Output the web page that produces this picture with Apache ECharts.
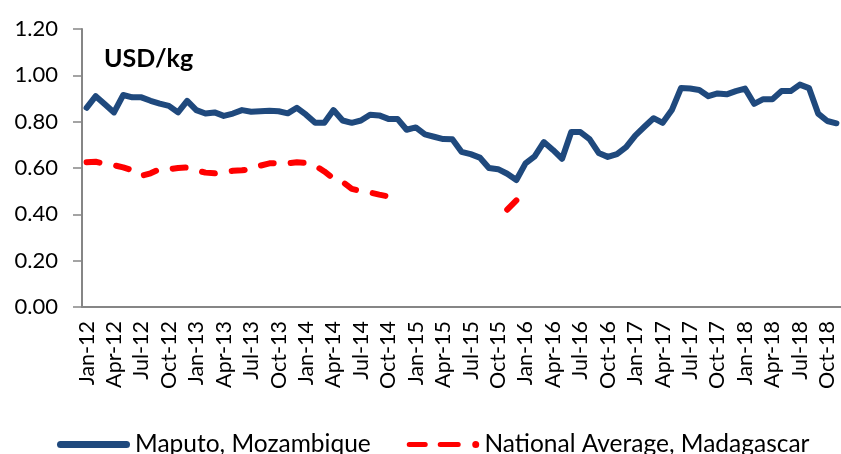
<!DOCTYPE html>
<html lang="en">
<head>
  <meta charset="UTF-8">
  <title>Maize prices</title>
  <script src="https://cdn.jsdelivr.net/npm/echarts@6/dist/echarts.min.js"></script>
</head>
<style>
  * {
    padding: 0px;
    margin: 0px;
  }
  #main {
    width: 841px;
    height: 454px;
  }
</style>
<body>
<div id="main"></div>
<script>
  // monthly categories Jan-12 .. Nov-18
  var monthNames = ['Jan', 'Feb', 'Mar', 'Apr', 'May', 'Jun', 'Jul', 'Aug', 'Sep', 'Oct', 'Nov', 'Dec'];
  var months = [];
  for (var y = 12; y <= 18; y++) {
    for (var m = 0; m < 12; m++) {
      if (y === 18 && m > 10) break;
      months.push(monthNames[m] + '-' + y);
    }
  }

  var maputo = [
    0.86, 0.91, 0.875, 0.84, 0.915, 0.905, 0.905, 0.89, 0.878, 0.868, 0.84, 0.89,
    0.85, 0.835, 0.84, 0.825, 0.835, 0.85, 0.843, 0.845, 0.847, 0.845, 0.836, 0.86,
    0.83, 0.795, 0.795, 0.85, 0.805, 0.795, 0.805, 0.83, 0.827, 0.812, 0.812, 0.765,
    0.775, 0.745, 0.735, 0.725, 0.724, 0.67, 0.66, 0.645, 0.60, 0.595, 0.575, 0.548,
    0.62, 0.65, 0.712, 0.678, 0.64, 0.755, 0.755, 0.725, 0.665, 0.648, 0.66, 0.69,
    0.74, 0.778, 0.815, 0.795, 0.85, 0.945, 0.943, 0.937, 0.91, 0.922, 0.918, 0.932,
    0.943, 0.877, 0.897, 0.897, 0.932, 0.932, 0.96, 0.945, 0.835, 0.803, 0.793
  ];

  var madagascar = [
    0.625, 0.627, 0.618, 0.612, 0.603, 0.59, 0.566, 0.577, 0.595, 0.595, 0.6, 0.602,
    0.59, 0.58, 0.577, 0.582, 0.588, 0.59, 0.595, 0.61, 0.62, 0.622, 0.62, 0.625,
    0.622, 0.61, 0.585, 0.555, 0.54, 0.51, 0.5, 0.494, 0.485, 0.477, 0.495, null,
    null, null, null, null, null, null, null, null, null, null, 0.42, 0.46,
    null, null, null, null, null, null, null, null, null, null, null, null,
    null, null, null, null, null, null, null, null, null, null, null, null,
    null, null, null, null, null, null, null, null, null, null, null
  ];

  var yTicks = [0, 0.2, 0.4, 0.6, 0.8, 1.0, 1.2];

  var axisGray = '#868686';
  var font = 'Lato';
  // legend icons: solid rounded bar, and dash-dash-dot like the original
  var solidIcon = 'path://M3.5,0 H69.5 A3.5,3.5 0 0 1 69.5,7 H3.5 A3.5,3.5 0 0 1 3.5,0 Z';
  var dashIcon = 'path://M3,1 H19 A2.5,2.5 0 0 1 19,6 H3 A2.5,2.5 0 0 1 3,1 Z ' +
    'M34,1 H52 A2.5,2.5 0 0 1 52,6 H34 A2.5,2.5 0 0 1 34,1 Z ' +
    'M69.5,0 A3.5,3.5 0 1 1 69.5,7 A3.5,3.5 0 1 1 69.5,0 Z';
  var chart = echarts.init(document.getElementById('main'));

  chart.setOption({
    backgroundColor: '#fff',
    animation: false,
    title: {
      text: 'USD/kg',
      left: 99,
      top: 41,
      textStyle: {fontFamily: font, fontSize: 25, fontWeight: 'bold', color: '#000'}
    },
    legend: {
      top: 427,
      left: 52,
      itemWidth: 73,
      itemHeight: 7,
      itemGap: 36,
      textStyle: {fontFamily: font, fontSize: 24.5, color: '#000'},
      data: [
        {name: 'Maputo, Mozambique', icon: solidIcon},
        {name: 'National Average, Madagascar', icon: dashIcon}
      ]
    },
    grid: {
      left: 82,
      right: 0,
      top: 29,
      bottom: 147
    },
    xAxis: {
      type: 'category',
      data: months,
      boundaryGap: true,
      axisLine: {lineStyle: {color: axisGray, width: 2}},
      axisTick: {interval: 0, length: 5, lineStyle: {color: axisGray, width: 1}},
      axisLabel: {
        interval: 2,
        rotate: 90,
        margin: 14,
        fontFamily: font,
        fontSize: 21.5,
        color: '#000'
      },
      splitLine: {show: false}
    },
    yAxis: {
      type: 'value',
      min: yTicks[0],
      max: yTicks[yTicks.length - 1],
      interval: 0.2,
      axisLine: {show: true, lineStyle: {color: axisGray, width: 2}},
      axisTick: {show: true, length: 9, lineStyle: {color: axisGray, width: 1.5}},
      axisLabel: {
        margin: 24,
        fontFamily: font,
        fontSize: 22,
        color: '#000',
        formatter: function (v) { return v.toFixed(2); }
      },
      splitLine: {show: false}
    },
    series: [
      {
        name: 'Maputo, Mozambique',
        type: 'line',
        data: maputo,
        symbol: 'none',
        color: '#1F497D',
        lineStyle: {color: '#1F497D', width: 6, join: 'round', cap: 'round'}
      },
      {
        name: 'National Average, Madagascar',
        type: 'line',
        data: madagascar,
        symbol: 'none',
        connectNulls: false,
        color: '#FF0000',
        lineStyle: {color: '#FF0000', width: 6, type: [13, 17], cap: 'round', join: 'round'}
      }
    ]
  });
</script>
</body>
</html>
